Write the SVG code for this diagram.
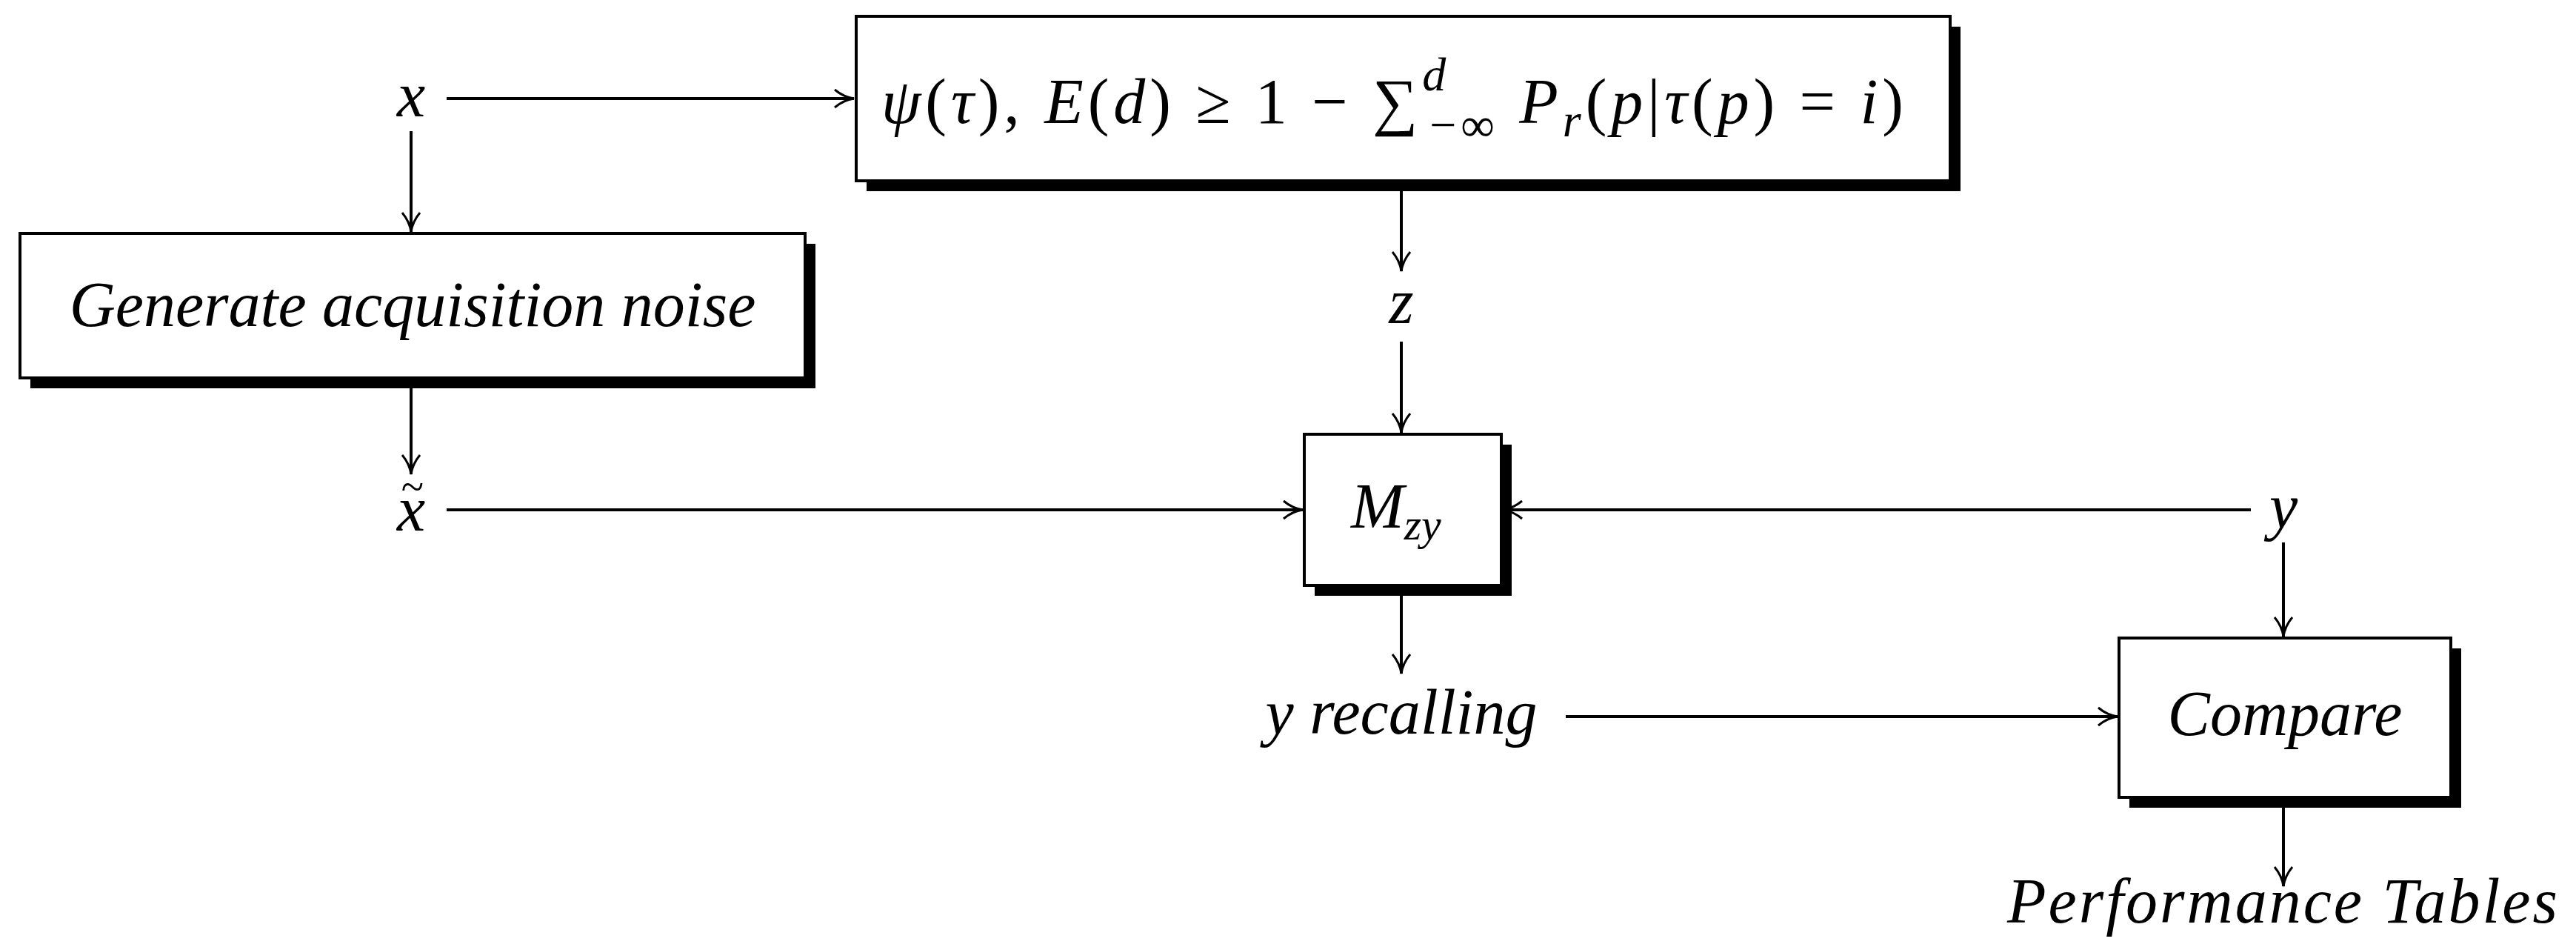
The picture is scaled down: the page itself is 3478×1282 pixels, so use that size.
<svg xmlns="http://www.w3.org/2000/svg" width="3478" height="1282" viewBox="0 0 3478 1282">
<style>
text{font-family:"Liberation Serif",serif;font-style:italic;font-size:86px;fill:#000}
.up{font-style:normal}
.box{fill:#fff;stroke:#000;stroke-width:4}
.sh{fill:#000}
.c line{stroke:#000;stroke-width:4}
</style>
<defs>
<marker id="a" viewBox="0 0 30 30" refX="28" refY="15" markerWidth="30" markerHeight="30" markerUnits="userSpaceOnUse" orient="auto">
<path d="M2,3 Q14,13 28,15 Q14,17 2,27" fill="none" stroke="#000" stroke-width="3"/>
</marker>
</defs>
<g class="c">
<line x1="603" y1="133" x2="1153" y2="133" marker-end="url(#a)"/>
<line x1="555" y1="177" x2="555" y2="313" marker-end="url(#a)"/>
<line x1="555" y1="523" x2="555" y2="640" marker-end="url(#a)"/>
<line x1="603" y1="688" x2="1759" y2="688" marker-end="url(#a)"/>
<line x1="1892" y1="257" x2="1892" y2="366" marker-end="url(#a)"/>
<line x1="1892" y1="461" x2="1892" y2="584" marker-end="url(#a)"/>
<line x1="3039" y1="688" x2="2029" y2="688" marker-end="url(#a)"/>
<line x1="3083" y1="732" x2="3083" y2="859" marker-end="url(#a)"/>
<line x1="1892" y1="800" x2="1892" y2="909" marker-end="url(#a)"/>
<line x1="2114" y1="967" x2="2859" y2="967" marker-end="url(#a)"/>
<line x1="3083" y1="1086" x2="3083" y2="1196" marker-end="url(#a)"/>
</g>
<g id="n_x"><text x="555" y="157" text-anchor="middle">x</text></g>
<g id="n_top">
<rect class="sh" x="1170" y="36" width="1477" height="222"/>
<rect class="box" x="1156" y="22" width="1477" height="222"/>
<text x="1190" y="166" font-size="100" textLength="1380" lengthAdjust="spacing">ψ<tspan class="up">(</tspan>τ<tspan class="up">),</tspan> E<tspan class="up">(</tspan>d<tspan class="up">) ≥ 1 − ∑</tspan><tspan font-size="64" dy="-44">d</tspan><tspan font-size="64" dx="-28" dy="68" class="up">−∞</tspan><tspan dy="-24"> P</tspan><tspan font-size="64" dy="18">r</tspan><tspan class="up" dy="-18">(</tspan>p<tspan class="up">|</tspan>τ<tspan class="up">(</tspan>p<tspan class="up">) = </tspan>i<tspan class="up">)</tspan></text>
</g>
<g id="n_gen">
<rect class="sh" x="41" y="329" width="1060" height="195"/>
<rect class="box" x="27" y="315" width="1060" height="195"/>
<text x="557" y="440" text-anchor="middle">Generate acquisition noise</text>
</g>
<g id="n_xt"><text x="555" y="716" text-anchor="middle">x<tspan x="557" y="676" class="up" font-size="56">~</tspan></text></g>
<g id="n_z"><text x="1892" y="436" text-anchor="middle">z</text></g>
<g id="n_m">
<rect class="sh" x="1775" y="600" width="266" height="204"/>
<rect class="box" x="1761" y="586" width="266" height="204"/>
<text x="1824" y="712">M<tspan font-size="60" dy="16">zy</tspan></text>
</g>
<g id="n_y"><text x="3083" y="712" text-anchor="middle">y</text></g>
<g id="n_yr"><text x="1892" y="990" text-anchor="middle">y recalling</text></g>
<g id="n_cmp">
<rect class="sh" x="2875" y="875" width="448" height="215"/>
<rect class="box" x="2861" y="861" width="448" height="215"/>
<text x="3085" y="992" text-anchor="middle">Compare</text>
</g>
<g id="n_pt"><text x="3083" y="1245" text-anchor="middle" letter-spacing="3">Performance Tables</text></g>
</svg>
